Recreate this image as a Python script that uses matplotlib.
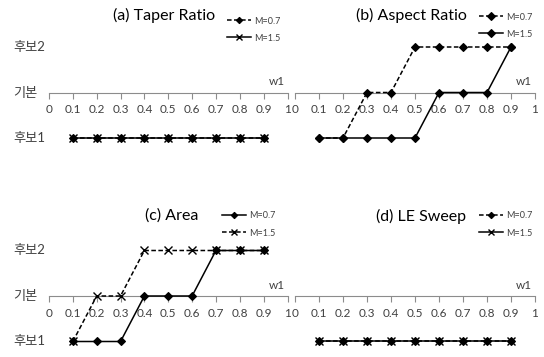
import matplotlib
matplotlib.use("Agg")
import matplotlib.pyplot as plt
from matplotlib.transforms import blended_transform_factory

plt.rcParams['font.family'] = ['Lato', 'Noto Sans CJK KR', 'DejaVu Sans']

W, H = 544, 357
fig = plt.figure(figsize=(W / 100, H / 100), dpi=100)

x_vals = [0.1, 0.2, 0.3, 0.4, 0.5, 0.6, 0.7, 0.8, 0.9]
xticks = [0, 0.1, 0.2, 0.3, 0.4, 0.5, 0.6, 0.7, 0.8, 0.9, 1.0]
xtick_labels = ['0', '0.1', '0.2', '0.3', '0.4', '0.5', '0.6', '0.7', '0.8', '0.9', '1']
ylevels = [1, 0, -1]
ylabels = ['후보2', '기본', '후보1']
series_labels = ['M=0.7', 'M=1.5']

taper_m07 = [-1, -1, -1, -1, -1, -1, -1, -1, -1]
taper_m15 = [-1, -1, -1, -1, -1, -1, -1, -1, -1]
aspect_m07 = [-1, -1, 0, 0, 1, 1, 1, 1, 1]
aspect_m15 = [-1, -1, -1, -1, -1, 0, 0, 0, 1]
area_m07 = [-1, -1, -1, 0, 0, 0, 1, 1, 1]
area_m15 = [-1, 0, 0, 1, 1, 1, 1, 1, 1]
sweep_m07 = [-1, -1, -1, -1, -1, -1, -1, -1, -1]
sweep_m15 = [-1, -1, -1, -1, -1, -1, -1, -1, -1]

titles = ['(a) Taper Ratio', '(b) Aspect Ratio', '(c) Area', '(d) LE Sweep']

DASH = (0, (3, 1.6))
SOLID = '-'

panels = [
    dict(x0=49, x1=287.5, yzero=92.5, ylim=(-1.9, 2.0), title=(164, 15), leg=(227, 16.5),
         data=(taper_m07, taper_m15), ls=(DASH, SOLID), mk=('D', 'x'), ylab=True),
    dict(x0=295, x1=535, yzero=92.5, ylim=(-1.9, 2.0), title=(411, 15), leg=(479, 12.5),
         data=(aspect_m07, aspect_m15), ls=(DASH, SOLID), mk=('D', 'D'), ylab=False),
    dict(x0=49, x1=287.5, yzero=296, ylim=(-1.3, 2.0), title=(172, 216), leg=(222, 211.5),
         data=(area_m07, area_m15), ls=(SOLID, DASH), mk=('D', 'x'), ylab=True),
    dict(x0=295, x1=535, yzero=296, ylim=(-1.3, 2.0), title=(421, 216), leg=(479, 211.5),
         data=(sweep_m07, sweep_m15), ls=(DASH, SOLID), mk=('D', 'x'), ylab=False),
]

UNIT = 45.5  # pixels per y unit

for p, title in zip(panels, titles):
    ylo, yhi = p['ylim']
    top_px = p['yzero'] - yhi * UNIT
    bot_px = p['yzero'] - ylo * UNIT
    ax = fig.add_axes([p['x0'] / W, 1 - bot_px / H, (p['x1'] - p['x0']) / W, (bot_px - top_px) / H])
    ax.set_xlim(0, 1)
    ax.set_ylim(ylo, yhi)
    ax.patch.set_alpha(0)
    for s in ['left', 'right', 'top']:
        ax.spines[s].set_visible(False)
    ax.spines['bottom'].set_position(('data', 0))
    ax.spines['bottom'].set_color('#8c8c8c')
    ax.spines['bottom'].set_linewidth(0.8)
    ax.set_xticks(xticks)
    ax.set_xticklabels(xtick_labels)
    ax.tick_params(axis='x', direction='out', length=4, width=0.8, color='#8c8c8c',
                   labelsize=8.5, labelcolor='#404040', pad=4.5)
    ax.set_yticks([])

    for i, (vals, ls, mk) in enumerate(zip(p['data'], p['ls'], p['mk'])):
        ms = 4 if mk == 'D' else 6
        if p['mk'] == ('D', 'D'):
            ms = 4.5
        ax.plot(x_vals, vals, linestyle=ls, marker=mk, color='black', lw=1.1,
                markersize=ms, markeredgewidth=1.0 if mk == 'x' else 0.8,
                label=series_labels[i], clip_on=False, zorder=3 + i)

    ax.text(0.955, 0.12, 'w1', ha='center', va='bottom', fontsize=8.5, color='#404040')

    if p['ylab']:
        tr = blended_transform_factory(fig.transFigure, ax.transData)
        for lv, lb in zip(ylevels, ylabels):
            ax.text(13 / W, lv, lb, transform=tr, ha='left', va='center', fontsize=9.5,
                    color='#404040')

    fig.text(p['title'][0] / W, 1 - p['title'][1] / H, title, ha='center', va='center',
             fontsize=11.5, color='black')

    leg = ax.legend(loc='upper left', bbox_to_anchor=(p['leg'][0] / W, 1 - p['leg'][1] / H),
                    bbox_transform=fig.transFigure, frameon=False, fontsize=6.5,
                    handlelength=2.7, handletextpad=0.35, labelspacing=0.9, borderpad=0,
                    borderaxespad=0, markerscale=0.8)
    for t in leg.get_texts():
        t.set_color('#404040')

fig.savefig('out.png', dpi=100)
